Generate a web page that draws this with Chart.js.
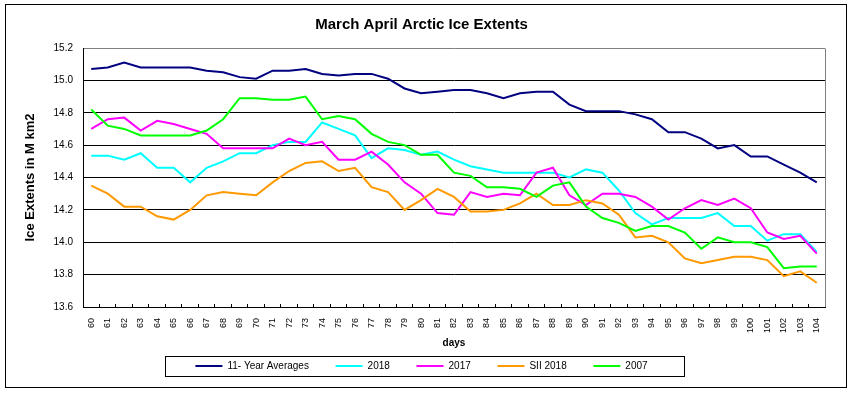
<!DOCTYPE html>
<html>
<head>
<meta charset="utf-8">
<script src="https://cdn.jsdelivr.net/npm/chart.js@4.4.1/dist/chart.umd.min.js"></script>
<style>
  html, body { margin: 0; padding: 0; background: #fff; }
  #wrap { width: 854px; height: 395px; }
</style>
</head>
<body>
<div id="wrap"><canvas id="c" width="854" height="395"></canvas></div>
<script>
// ---- Data ----
const days = ['60','61','62','63','64','65','66','67','68','69','70','71','72','73','74','75','76','77','78','79','80','81','82','83','84','85','86','87','88','89','90','91','92','93','94','95','96','97','98','99','100','101','102','103','104'];

const avg11 = [15.07,15.08,15.11,15.08,15.08,15.08,15.08,15.06,15.05,15.02,
               15.01,15.06,15.06,15.07,15.04,15.03,15.04,15.04,15.01,14.95,
               14.92,14.93,14.94,14.94,14.92,14.89,14.92,14.93,14.93,14.85,
               14.81,14.81,14.81,14.79,14.76,14.68,14.68,14.64,14.58,14.60,
               14.53,14.53,14.48,14.43,14.37];

const y2018 = [14.535,14.535,14.51,14.55,14.46,14.46,14.37,14.46,14.50,14.55,
               14.55,14.60,14.62,14.62,14.74,14.70,14.66,14.52,14.58,14.57,
               14.54,14.56,14.51,14.47,14.45,14.43,14.43,14.43,14.43,14.40,
               14.45,14.43,14.32,14.18,14.11,14.15,14.15,14.15,14.18,14.10,
               14.10,14.01,14.05,14.05,13.94];

const y2017 = [14.70,14.76,14.77,14.69,14.75,14.73,14.70,14.67,14.58,14.58,
               14.58,14.58,14.64,14.60,14.62,14.51,14.51,14.56,14.48,14.37,
               14.30,14.18,14.17,14.31,14.28,14.30,14.29,14.43,14.46,14.29,
               14.23,14.30,14.30,14.28,14.22,14.14,14.21,14.26,14.23,14.27,
               14.21,14.06,14.02,14.04,13.93];

const sii2018 = [14.35,14.30,14.22,14.22,14.16,14.14,14.20,14.29,14.31,14.30,
                 14.29,14.37,14.44,14.49,14.50,14.44,14.46,14.34,14.31,14.20,
                 14.26,14.33,14.28,14.19,14.19,14.20,14.24,14.30,14.23,14.23,
                 14.26,14.24,14.17,14.03,14.04,14.00,13.90,13.87,13.89,13.91,
                 13.91,13.89,13.79,13.82,13.75];

const y2007 = [14.82,14.72,14.70,14.66,14.66,14.66,14.66,14.69,14.76,14.89,
               14.89,14.88,14.88,14.90,14.76,14.78,14.76,14.67,14.62,14.60,
               14.54,14.54,14.43,14.41,14.34,14.34,14.33,14.28,14.35,14.37,
               14.22,14.15,14.12,14.07,14.10,14.10,14.06,13.96,14.03,14.00,
               14.00,13.97,13.84,13.85,13.85];

const seriesNames = ['11- Year Averages', '2018', '2017', 'SII 2018', '2007'];
const seriesColors = ['#000080', '#00FFFF', '#FF00FF', '#FF9900', '#00FF00'];
const seriesData = [avg11, y2018, y2017, sii2018, y2007];

const yMin = 13.6, yMax = 15.2, yStep = 0.2;

// ---- Chart ----
Chart.defaults.font.family = "'Liberation Sans', Arial, sans-serif";
Chart.defaults.color = '#000';

const framePlugin = {
  id: 'frame',
  beforeDraw(chart) {
    const ctx = chart.ctx;
    ctx.save();
    ctx.fillStyle = '#fff';
    ctx.fillRect(0, 0, chart.width, chart.height);
    ctx.restore();
  },
  afterDraw(chart) {
    const ctx = chart.ctx;
    const a = chart.chartArea;
    ctx.save();
    // plot area right border (gray)
    ctx.strokeStyle = '#808080';
    ctx.lineWidth = 1;
    ctx.beginPath();
    ctx.moveTo(Math.round(a.right) + 0.5, Math.round(a.top) + 0.5);
    ctx.lineTo(Math.round(a.right) + 0.5, Math.round(a.bottom));
    ctx.stroke();
    // outer chart border
    ctx.strokeStyle = '#000';
    ctx.strokeRect(5.5, 4.5, 841, 383);
    // legend box
    const hb = chart.legend && chart.legend.legendHitBoxes;
    if (hb && hb.length) {
      const first = hb[0], last = hb[hb.length - 1];
      const l = Math.round(first.left - 30) + 0.5;
      const r = Math.round(last.left + last.width + 36) + 0.5;
      const cy = first.top + first.height / 2;
      const t = Math.round(cy - 10) + 0.5;
      const b = Math.round(cy + 10) + 0.5;
      ctx.strokeRect(l, t, r - l, b - t);
    }
    ctx.restore();
  }
};

const pad = '      ';

new Chart(document.getElementById('c'), {
  type: 'line',
  data: {
    labels: days,
    datasets: seriesData.map((d, i) => ({
      label: seriesNames[i],
      data: d,
      borderColor: seriesColors[i],
      backgroundColor: seriesColors[i],
      borderWidth: 2,
      pointRadius: 0,
      tension: 0,
      fill: false,
      order: seriesData.length - 1 - i
    }))
  },
  options: {
    responsive: false,
    animation: false,
    layout: { padding: { left: 18, right: 29, top: 5, bottom: 14 } },
    plugins: {
      title: {
        display: true,
        text: 'March April Arctic Ice Extents',
        color: '#000',
        font: { size: 15, weight: 'bold' },
        padding: { top: 11, bottom: 14 }
      },
      legend: {
        position: 'bottom',
        labels: {
          boxWidth: 27,
          boxHeight: 2,
          padding: 10,
          color: '#000',
          font: { size: 10 },
          sort: (a, b) => a.datasetIndex - b.datasetIndex,
          generateLabels: (chart) => chart.data.datasets.map((ds, i, arr) => ({
            text: ds.label + (i < arr.length - 1 ? pad : ''),
            fillStyle: ds.borderColor,
            strokeStyle: ds.borderColor,
            lineWidth: 0,
            hidden: false,
            datasetIndex: i,
            fontColor: '#000'
          }))
        }
      },
      tooltip: { enabled: false }
    },
    scales: {
      x: {
        type: 'category',
        offset: true,
        grid: {
          display: true,
          drawOnChartArea: false,
          drawTicks: true,
          tickLength: -3,
          offset: true,
          color: '#000'
        },
        border: { display: true, color: '#000', width: 1 },
        ticks: {
          autoSkip: false,
          maxRotation: 90,
          minRotation: 90,
          padding: 14,
          color: '#000',
          font: { size: 9 }
        },
        title: {
          display: true,
          text: 'days',
          color: '#000',
          font: { size: 10, weight: 'bold' },
          padding: { top: 0, bottom: 1.5 }
        },
        afterFit(scale) { scale.height = 44; }
      },
      y: {
        min: yMin,
        max: yMax,
        grid: {
          color: (ctx) => (ctx.tick && ctx.tick.value >= yMax - 0.01) ? '#808080' : '#000',
          drawTicks: false,
          lineWidth: 1
        },
        border: { display: true, color: '#000', width: 1 },
        ticks: {
          stepSize: yStep,
          padding: 10,
          color: '#000',
          font: { size: 10 },
          callback: (v) => Number(v).toFixed(1)
        },
        title: {
          display: true,
          text: 'Ice Extents in M km2',
          color: '#000',
          font: { size: 13, weight: 'bold' },
          padding: { top: 5, bottom: 0 }
        },
        afterFit(scale) { scale.width = 65; }
      }
    }
  },
  plugins: [framePlugin]
});
</script>
</body>
</html>
